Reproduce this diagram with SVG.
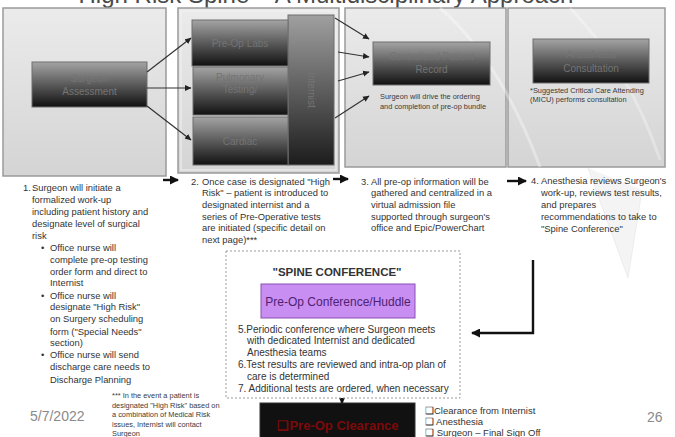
<svg xmlns="http://www.w3.org/2000/svg" width="675" height="437" viewBox="0 0 675 437">
  <defs>
    <linearGradient id="panelFill" x1="0" y1="0" x2="0" y2="1">
      <stop offset="0" stop-color="#ebebeb"/>
      <stop offset="1" stop-color="#d4d4d4"/>
    </linearGradient>
    <linearGradient id="boxFill" x1="0" y1="0" x2="0" y2="1">
      <stop offset="0" stop-color="#a4a4a4"/>
      <stop offset="1" stop-color="#111111"/>
    </linearGradient>
    <linearGradient id="sideFill" x1="0" y1="0" x2="0" y2="1">
      <stop offset="0" stop-color="#a0a0a0"/>
      <stop offset="1" stop-color="#1c1c1c"/>
    </linearGradient>
    <marker id="tip" markerUnits="userSpaceOnUse" markerWidth="7" markerHeight="7" refX="6" refY="3.5" orient="auto">
      <path d="M0,0.5 L6.5,3.5 L0,6.5 Z" fill="#222"/>
    </marker>
    <marker id="bold" markerUnits="userSpaceOnUse" markerWidth="9" markerHeight="9" refX="8" refY="4.5" orient="auto">
      <path d="M0,0 L9,4.5 L0,9 Z" fill="#111"/>
    </marker>
  </defs>
  <style>
    text { font-family: "Liberation Sans", Arial, sans-serif; }
    .title { font-size: 24px; fill: #4a4a4a; }
    .panel { fill: url(#panelFill); stroke: #9a9a9a; stroke-width: 1.5; }
    .box { fill: url(#boxFill); stroke: #6e6e6e; stroke-width: 1; }
    .boxLabel { font-size: 10px; fill: #747474; text-anchor: middle; }
    .note { font-size: 7.4px; fill: #3a3a3a; }
    .step { font-size: 9.4px; fill: #333; }
    .conf { font-size: 10px; fill: #333; }
    .link { stroke: #333; stroke-width: 1.2; fill: none; marker-end: url(#tip); }
    .flow { stroke: #111; stroke-width: 2.4; fill: none; marker-end: url(#bold); }
    .foot { font-size: 14px; fill: #8a8a8a; }
    .check { font-size: 9.5px; fill: #333; }
  </style>

  <!-- backdrop ornaments of the slide template -->
  <g id="backdrop">
    <polygon points="588,168 628,278 642,190" fill="#f4f4f4"/>
    <path d="M588,168 L628,278 L642,190" fill="none" stroke="#ececec" stroke-width="1"/>
  </g>

  <text class="title" x="326" y="3" text-anchor="middle">High Risk Spine – A Multidisciplinary Approach</text>

  <!-- stage panels -->
  <g id="panels">
    <rect class="panel" x="3" y="8" width="163" height="168"/>
    <rect class="panel" x="178" y="8" width="161" height="165"/>
    <rect x="181" y="11" width="155" height="159" fill="none" stroke="#f2f2f2" stroke-width="1"/>
    <rect class="panel" x="345" y="8" width="161" height="159"/>
    <rect class="panel" x="508" y="8" width="157" height="159"/>
    <path d="M440,8 Q500,60 540,167" fill="none" stroke="#ffffff" stroke-opacity="0.35" stroke-width="3"/>
    <path d="M570,8 Q630,70 660,160" fill="none" stroke="#ffffff" stroke-opacity="0.3" stroke-width="3"/>
  </g>

  <g id="surgeon-assessment">
    <rect class="box" x="32" y="62" width="115" height="45"/>
    <text class="boxLabel" x="89.5" y="82">Surgeon</text>
    <text class="boxLabel" x="89.5" y="95">Assessment</text>
  </g>

  <g id="internist">
    <rect x="288" y="15" width="46" height="150" fill="url(#sideFill)" stroke="#6e6e6e" stroke-width="1"/>
    <text class="boxLabel" font-size="9" transform="translate(308,90) rotate(90)">Internist</text>
  </g>

  <g id="pre-op-labs">
    <rect class="box" x="192" y="20" width="96" height="46"/>
    <text class="boxLabel" x="240" y="47">Pre-Op Labs</text>
  </g>

  <g id="pulmonary-testing">
    <rect class="box" x="193" y="67" width="95" height="48"/>
    <text class="boxLabel" x="240" y="81">Pulmonary</text>
    <text class="boxLabel" x="240" y="93">Testing/</text>
  </g>

  <g id="cardiac">
    <rect class="box" x="193" y="117" width="95" height="48"/>
    <text class="boxLabel" x="240" y="145">Cardiac</text>
  </g>

  <g id="patient-record">
    <rect class="box" x="373" y="42" width="117" height="43"/>
    <text class="boxLabel" x="431.5" y="60">Centralized Patient</text>
    <text class="boxLabel" x="431.5" y="73">Record</text>
    <text class="note" x="380" y="99">Surgeon will drive the ordering</text>
    <text class="note" x="380" y="109">and completion of pre-op bundle</text>
  </g>

  <g id="anesthesia-consult">
    <rect class="box" x="533" y="39" width="116" height="44"/>
    <text class="boxLabel" x="591" y="58">Anesthesia</text>
    <text class="boxLabel" x="591" y="72">Consultation</text>
    <text class="note" x="530" y="93">*Suggested Critical Care Attending</text>
    <text class="note" x="530" y="102">(MICU) performs consultation</text>
  </g>

  <!-- connectors -->
  <g id="connectors">
    <line class="link" x1="147" y1="72" x2="191" y2="38"/>
    <line class="link" x1="147" y1="88" x2="191" y2="88"/>
    <line class="link" x1="147" y1="106" x2="191" y2="140"/>
    <line class="link" x1="335" y1="18" x2="369" y2="39"/>
    <line class="link" x1="338" y1="52" x2="369" y2="57"/>
    <line class="link" x1="338" y1="81" x2="369" y2="72"/>
    <line class="link" x1="335" y1="118" x2="369" y2="96"/>
    <line class="flow" x1="163" y1="180" x2="178" y2="180"/>
    <line class="flow" x1="333" y1="179" x2="348" y2="179"/>
    <line class="flow" x1="507" y1="181" x2="526" y2="181"/>
    <path class="flow" d="M533,260 V333 H472"/>
    <line class="flow" x1="342" y1="377" x2="342" y2="403"/>
  </g>

  <!-- step descriptions -->
  <g id="step-1">
    <text class="step" x="23" y="191">1.</text>
    <text class="step" x="32" y="191">Surgeon will initiate a</text>
    <text class="step" x="32" y="203">formalized work-up</text>
    <text class="step" x="32" y="215">including patient history and</text>
    <text class="step" x="32" y="227">designate level of surgical</text>
    <text class="step" x="32" y="239">risk</text>
    <text class="step" x="41" y="251">•</text>
    <text class="step" x="50" y="251">Office nurse will</text>
    <text class="step" x="50" y="263">complete pre-op testing</text>
    <text class="step" x="50" y="275">order form and direct to</text>
    <text class="step" x="50" y="286">Internist</text>
    <text class="step" x="41" y="299">•</text>
    <text class="step" x="50" y="299">Office nurse will</text>
    <text class="step" x="50" y="310">designate "High Risk"</text>
    <text class="step" x="50" y="322">on Surgery scheduling</text>
    <text class="step" x="50" y="335">form ("Special Needs"</text>
    <text class="step" x="50" y="346">section)</text>
    <text class="step" x="41" y="358">•</text>
    <text class="step" x="50" y="358">Office nurse will send</text>
    <text class="step" x="50" y="370">discharge care needs to</text>
    <text class="step" x="50" y="383">Discharge Planning</text>
  </g>

  <g id="step-2">
    <text class="step" x="191" y="185">2.</text>
    <text class="step" x="202" y="185">Once case is designated "High</text>
    <text class="step" x="202" y="196">Risk" – patient is introduced to</text>
    <text class="step" x="202" y="208">designated internist and a</text>
    <text class="step" x="202" y="220">series of Pre-Operative tests</text>
    <text class="step" x="202" y="231">are initiated (specific detail on</text>
    <text class="step" x="202" y="243">next page)***</text>
  </g>

  <g id="step-3">
    <text class="step" x="361" y="185">3.</text>
    <text class="step" x="371" y="185">All pre-op information will be</text>
    <text class="step" x="371" y="196">gathered and centralized in a</text>
    <text class="step" x="371" y="208">virtual admission file</text>
    <text class="step" x="371" y="220">supported through surgeon's</text>
    <text class="step" x="371" y="231">office and Epic/PowerChart</text>
  </g>

  <g id="step-4">
    <text class="step" x="531" y="184">4.</text>
    <text class="step" x="541" y="184">Anesthesia reviews Surgeon's</text>
    <text class="step" x="541" y="196">work-up, reviews test results,</text>
    <text class="step" x="541" y="208">and prepares</text>
    <text class="step" x="541" y="220">recommendations to take to</text>
    <text class="step" x="541" y="232">"Spine Conference"</text>
  </g>

  <g id="spine-conference">
    <rect x="226" y="251" width="234" height="147" fill="#ffffff" stroke="#9a9a9a" stroke-width="1" stroke-dasharray="2,2"/>
    <text x="337" y="276" font-size="11.5" font-weight="bold" fill="#333" text-anchor="middle">"SPINE CONFERENCE"</text>
    <rect x="261" y="284" width="154" height="34" fill="#c88ef2" stroke="#8a4fb0" stroke-width="1"/>
    <text x="338" y="306" font-size="12" fill="#4f1f72" text-anchor="middle">Pre-Op Conference/Huddle</text>
    <text class="conf" x="238" y="333">5.Periodic conference where Surgeon meets</text>
    <text class="conf" x="247" y="344">with dedicated Internist and dedicated</text>
    <text class="conf" x="247" y="356">Anesthesia teams</text>
    <text class="conf" x="238" y="368">6.Test results are reviewed and intra-op plan of</text>
    <text class="conf" x="247" y="380">care is determined</text>
    <text class="conf" x="238" y="392">7. Additional tests are ordered, when necessary</text>
  </g>

  <g id="pre-op-clearance">
    <rect x="260" y="403" width="155" height="40" fill="#111111" stroke="#333" stroke-width="1"/>
    <text x="338" y="430" font-size="13" font-weight="bold" fill="#7d0a0a" text-anchor="middle">❑Pre-Op Clearance</text>
  </g>

  <g id="clearance-list">
    <text class="check" x="425" y="414">❑Clearance from Internist</text>
    <text class="check" x="425" y="425">❑ Anesthesia</text>
    <text class="check" x="425" y="436">❑ Surgeon – Final Sign Off</text>
  </g>

  <text class="note" x="112" y="398">*** In the event a patient is</text>
  <text class="note" x="112" y="407.5">designated "High Risk" based on</text>
  <text class="note" x="112" y="417">a combination of Medical Risk</text>
  <text class="note" x="112" y="426.5">issues, Internist will contact</text>
  <text class="note" x="112" y="436">Surgeon</text>

  <text class="foot" x="30" y="421">5/7/2022</text>
  <text class="foot" x="647" y="422">26</text>
</svg>
